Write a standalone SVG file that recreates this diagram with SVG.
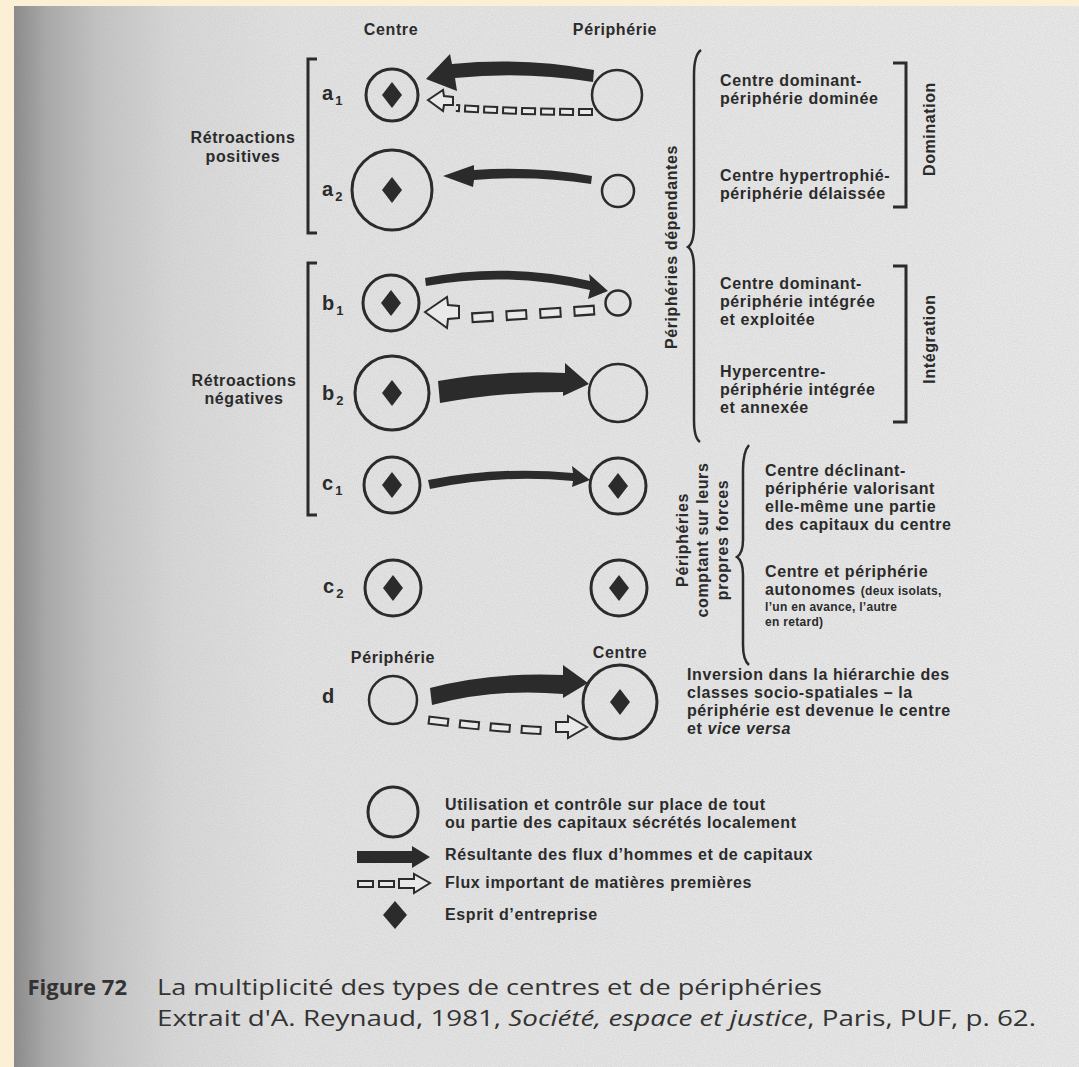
<svg xmlns="http://www.w3.org/2000/svg" xmlns:xlink="http://www.w3.org/1999/xlink" width="1079" height="1067" viewBox="0 0 1079 1067">
<defs>
<linearGradient id="page" gradientUnits="userSpaceOnUse" x1="14" y1="0" x2="1079" y2="0">
<stop offset="0" stop-color="#888888"/>
<stop offset="0.03" stop-color="#a8a8a8"/>
<stop offset="0.08" stop-color="#c4c4c4"/>
<stop offset="0.15" stop-color="#d8d8d8"/>
<stop offset="0.26" stop-color="#e3e3e3"/>
<stop offset="1" stop-color="#e9e9e9"/>
</linearGradient>
<filter id="grain" x="0" y="0" width="100%" height="100%">
<feTurbulence type="fractalNoise" baseFrequency="0.9" numOctaves="2" seed="3"/>
<feColorMatrix type="matrix" values="0 0 0 0 0.4  0 0 0 0 0.4  0 0 0 0 0.4  0 0 0 -1.2 0.9"/>
</filter>
<path id="dia" d="M0,-13 L10,0 L0,13 L-10,0 Z"/>
<style>
.t{font-family:"Liberation Sans",Arial,sans-serif;font-weight:bold;font-size:16px;letter-spacing:0.6px;fill:#2b2b2b}
.sm{font-size:12px;letter-spacing:0.3px}
.lbl{font-family:"Liberation Sans",Arial,sans-serif;font-weight:bold;font-size:20px;fill:#2b2b2b}
.sub{font-size:13px}
.cap{font-family:"Open Sans","Liberation Sans",sans-serif;font-size:22px;fill:#333333}
.ring{fill:none;stroke:#2b2b2b;stroke-width:3}
.ringp{fill:none;stroke:#2b2b2b;stroke-width:2.5}
.dia{fill:#2b2b2b}
.br{fill:none;stroke:#2b2b2b;stroke-width:3;stroke-linejoin:miter}
.brace{fill:none;stroke:#2b2b2b;stroke-width:2.5}
.solid{fill:#2b2b2b}
.dash-o{fill:none;stroke:#2b2b2b}
.dash-i{fill:none;stroke:#e9e9e9}
.ohead{fill:#e9e9e9;stroke:#2b2b2b;stroke-width:2;stroke-linejoin:miter}
</style>
</defs>

<rect width="1079" height="1067" fill="#fbf0d6"/>
<rect x="14" y="6" width="1065" height="1061" fill="url(#page)"/>
<rect x="14" y="6" width="1065" height="1061" filter="url(#grain)" opacity="0.3"/>

<!-- headers -->
<g id="headers">
<text class="t" x="391" y="35" text-anchor="middle">Centre</text>
<text class="t" x="615" y="35" text-anchor="middle">Périphérie</text>
</g>

<!-- left brackets and labels -->
<g id="group-a">
<path class="br" d="M317,59 L308,59 L308,233 L317,233"/>
<text class="t" x="243" y="143" text-anchor="middle">Rétroactions</text>
<text class="t" x="243" y="162" text-anchor="middle">positives</text>
</g>
<g id="group-b">
<path class="br" d="M317,263 L308,263 L308,515 L317,515"/>
<text class="t" x="244" y="386" text-anchor="middle">Rétroactions</text>
<text class="t" x="244" y="404" text-anchor="middle">négatives</text>
</g>

<!-- rows -->
<g id="row-a1">
<text class="lbl" x="322" y="100">a<tspan class="sub" dx="2" dy="5">1</tspan></text>
<circle class="ring" cx="392" cy="95" r="26"/>
<use href="#dia" class="dia" x="392" y="95"/>
<circle class="ringp" cx="617" cy="95" r="25"/>
</g>
<g id="row-a2">
<text class="lbl" x="322" y="196">a<tspan class="sub" dx="2" dy="5">2</tspan></text>
<circle class="ring" cx="392" cy="190" r="40"/>
<use href="#dia" class="dia" x="392" y="190"/>
<circle class="ringp" cx="618" cy="191" r="16"/>
</g>
<g id="row-b1">
<text class="lbl" x="322" y="310">b<tspan class="sub" dx="2" dy="5">1</tspan></text>
<circle class="ring" cx="391" cy="303" r="28"/>
<use href="#dia" class="dia" x="391" y="303"/>
<circle class="ringp" cx="618" cy="303" r="12.5"/>
</g>
<g id="row-b2">
<text class="lbl" x="322" y="400">b<tspan class="sub" dx="2" dy="5">2</tspan></text>
<circle class="ring" cx="392" cy="393" r="37"/>
<use href="#dia" class="dia" x="392" y="393"/>
<circle class="ringp" cx="618" cy="393" r="29"/>
</g>
<g id="row-c1">
<text class="lbl" x="322" y="490">c<tspan class="sub" dx="2" dy="5">1</tspan></text>
<circle class="ring" cx="392" cy="485" r="28"/>
<use href="#dia" class="dia" x="392" y="485"/>
<circle class="ring" cx="618" cy="486" r="28"/>
<use href="#dia" class="dia" x="618" y="486"/>
</g>
<g id="row-c2">
<text class="lbl" x="323" y="593">c<tspan class="sub" dx="2" dy="5">2</tspan></text>
<circle class="ring" cx="393" cy="588" r="28"/>
<use href="#dia" class="dia" x="393" y="588"/>
<circle class="ring" cx="619" cy="588" r="28"/>
<use href="#dia" class="dia" x="619" y="588"/>
</g>
<g id="row-d">
<text class="lbl" x="322" y="703">d</text>
<text class="t" x="393" y="663" text-anchor="middle">Périphérie</text>
<text class="t" x="620" y="658" text-anchor="middle">Centre</text>
<circle class="ringp" cx="393" cy="700" r="24"/>
<circle class="ring" cx="620" cy="702" r="37"/>
<use href="#dia" class="dia" x="620" y="702"/>
</g>

<!-- connectors -->
<g id="connectors">
<!-- a1 -->
<path class="solid" d="M426,79 L450,54 L452,64 Q525,57 594,70 L593,82 Q525,71 455,78 L457,91 Z"/>
<path class="dash-o" stroke-width="8" stroke-dasharray="15 4" d="M593,112 Q525,112 456,108"/>
<path class="dash-i" stroke-width="4" stroke-dasharray="11 8" stroke-dashoffset="-2" d="M593,112 Q525,112 456,108"/>
<path class="ohead" d="M428,100 L443,90 L444,96 L453,97 L453,105 L444,105 L443,111 Z"/>
<!-- a2 -->
<path class="solid" d="M443,176 L474,165 L474,170 Q535,166 592,176 L591,184 Q535,175 474,180 L473,187 Z"/>
<!-- b1 -->
<path class="solid" d="M425,278 Q505,262 590,281 L589,274 L608,291 L588,299 L590,290 Q505,271 426,286 Z"/>
<path class="dash-o" stroke-width="11" stroke-dasharray="22 12" d="M595,310 Q535,314 468,318"/>
<path class="dash-i" stroke-width="6.5" stroke-dasharray="18 16" stroke-dashoffset="-2" d="M595,310 Q535,314 468,318"/>
<path class="ohead" d="M425,312 L447,297 L448,305 L459,306 L459,318 L448,319 L447,328 Z"/>
<!-- b2 -->
<path class="solid" d="M438,381 Q500,370 565,373 L565,363 L589,384 L563,396 L563,392 Q500,392 440,403 Z"/>
<!-- c1 -->
<path class="solid" d="M428,480 Q500,466 573,473 L572,466 L590,480 L572,487 L573,481 Q500,474 430,489 Z"/>
<!-- d -->
<path class="solid" d="M430,688 Q490,672 563,675 L563,665 L588,683 L563,698 L563,694 Q495,688 432,705 Z"/>
<path class="dash-o" stroke-width="9" stroke-dasharray="21 10" d="M428,720 Q490,728 550,731"/>
<path class="dash-i" stroke-width="5" stroke-dasharray="17 14" stroke-dashoffset="-2" d="M428,720 Q490,728 550,731"/>
<path class="ohead" d="M587,727 L568,716 L568,722 L556,722 L556,732 L568,732 L568,738 Z"/>
</g>

<!-- right column -->
<g id="dependantes">
<path class="brace" d="M701,50 Q694,55 694,75 L694,225 Q694,243 688,247 Q694,251 694,270 L694,420 Q694,438 700,442"/>
<text class="t" transform="translate(677,247) rotate(-90)" text-anchor="middle">Périphéries dépendantes</text>
</g>
<g id="domination">
<path class="br" d="M893,63 L906,63 L906,207 L893,207"/>
<text class="t" transform="translate(935,129) rotate(-90)" text-anchor="middle">Domination</text>
<text class="t" x="720" y="86">Centre dominant-</text>
<text class="t" x="720" y="104">périphérie dominée</text>
<text class="t" x="720" y="181">Centre hypertrophié-</text>
<text class="t" x="720" y="199">périphérie délaissée</text>
</g>
<g id="integration">
<path class="br" d="M893,266 L906,266 L906,422 L893,422"/>
<text class="t" transform="translate(935,339) rotate(-90)" text-anchor="middle">Intégration</text>
<text class="t" x="720" y="289">Centre dominant-</text>
<text class="t" x="720" y="307">périphérie intégrée</text>
<text class="t" x="720" y="325">et exploitée</text>
<text class="t" x="720" y="377">Hypercentre-</text>
<text class="t" x="720" y="395">périphérie intégrée</text>
<text class="t" x="720" y="413">et annexée</text>
</g>
<g id="propres-forces">
<path class="brace" d="M749,445 Q743,452 743,470 L743,540 Q743,553 737,557 Q743,561 743,575 L743,645 Q743,660 749,665"/>
<text class="t" transform="translate(688,540) rotate(-90)" text-anchor="middle">Périphéries</text>
<text class="t" transform="translate(708,540) rotate(-90)" text-anchor="middle">comptant sur leurs</text>
<text class="t" transform="translate(728,540) rotate(-90)" text-anchor="middle">propres forces</text>
<text class="t" x="765" y="476">Centre déclinant-</text>
<text class="t" x="765" y="494">périphérie valorisant</text>
<text class="t" x="765" y="512">elle-même une partie</text>
<text class="t" x="765" y="530">des capitaux du centre</text>
<text class="t" x="765" y="577">Centre et périphérie</text>
<text class="t" x="765" y="595">autonomes <tspan class="sm">(deux isolats,</tspan></text>
<text class="t sm" x="765" y="611">l’un en avance, l’autre</text>
<text class="t sm" x="765" y="626">en retard)</text>
</g>
<g id="inversion">
<text class="t" x="687" y="680">Inversion dans la hiérarchie des</text>
<text class="t" x="687" y="698">classes socio-spatiales – la</text>
<text class="t" x="687" y="716">périphérie est devenue le centre</text>
<text class="t" x="687" y="734">et <tspan font-style="italic">vice versa</tspan></text>
</g>

<!-- legend -->
<g id="legend">
<circle class="ring" cx="393" cy="812" r="25"/>
<text class="t" x="445" y="810">Utilisation et contrôle sur place de tout</text>
<text class="t" x="445" y="828">ou partie des capitaux sécrétés localement</text>
<path class="solid" d="M357,851 L412,851 L412,846 L430,857 L412,868 L412,863 L357,863 Z"/>
<text class="t" x="445" y="860">Résultante des flux d’hommes et de capitaux</text>
<path class="dash-o" stroke-width="8" stroke-dasharray="17 4" d="M357,884 L396,884"/>
<path class="dash-i" stroke-width="4" stroke-dasharray="13 8" stroke-dashoffset="-2" d="M357,884 L396,884"/>
<path class="ohead" d="M430,883 L414,874 L414,879 L399,879 L399,888 L414,888 L414,893 Z"/>
<text class="t" x="445" y="888">Flux important de matières premières</text>
<path class="dia" d="M395,901 L407,915 L395,929 L383,915 Z"/>
<text class="t" x="445" y="920">Esprit d’entreprise</text>
</g>

<!-- caption -->
<g id="caption">
<text class="cap" x="127" y="995" text-anchor="end" font-weight="bold" fill="#4a4a4a">Figure 72</text>
<text class="cap" x="157" y="995" textLength="665" lengthAdjust="spacingAndGlyphs">La multiplicité des types de centres et de périphéries</text>
<text class="cap" x="157" y="1026" textLength="879" lengthAdjust="spacingAndGlyphs">Extrait d'A. Reynaud, 1981, <tspan font-style="italic">Société, espace et justice</tspan>, Paris, PUF, p. 62.</text>
</g>
</svg>
